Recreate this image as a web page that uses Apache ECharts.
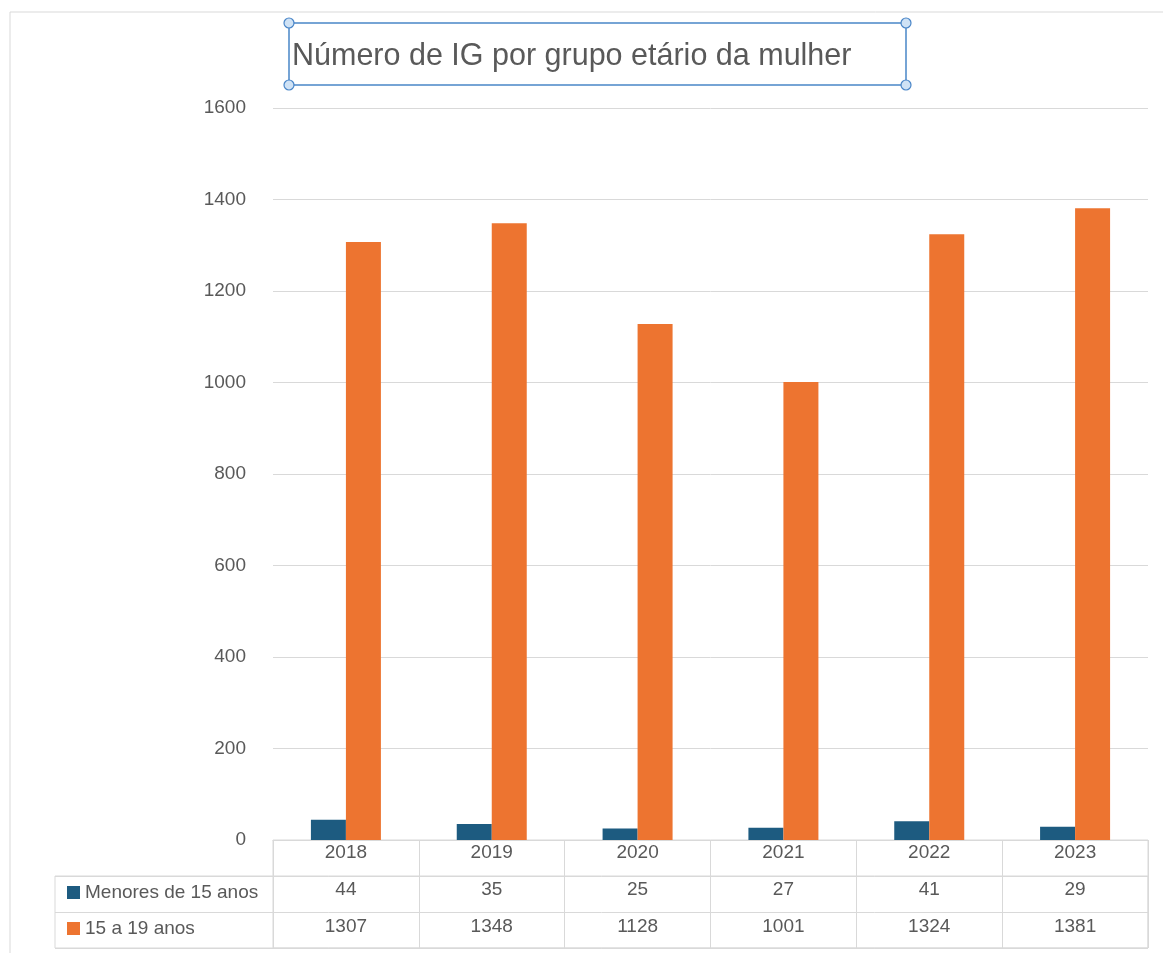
<!DOCTYPE html>
<html>
<head>
<meta charset="utf-8">
<script src="https://cdn.jsdelivr.net/npm/echarts@6/dist/echarts.min.js"></script>
<style>
  html, body { margin: 0; padding: 0; background: #fff; }
  #chart { width: 1163px; height: 953px; }
</style>
</head>
<body>
<div id="chart"></div>
<script>
var anos = ['2018', '2019', '2020', '2021', '2022', '2023'];
var menores15 = [44, 35, 25, 27, 41, 29];
var de15a19 = [1307, 1348, 1128, 1001, 1324, 1381];
var yTicks = [0, 200, 400, 600, 800, 1000, 1200, 1400, 1600];
var nomes = ['Menores de 15 anos', '15 a 19 anos'];

var font = '"Liberation Sans", Arial, sans-serif';
var cinza = '#595959';
var linha = '#d9d9d9';
var azul = '#1d5b80';
var laranja = '#ed7430';

var chart = echarts.init(document.getElementById('chart'));

// cantos da caixa de selecção do título
var cantos = [[289, 23], [906, 23], [289, 85], [906, 85]].map(function (p) {
    return {
        type: 'circle', shape: { cx: p[0], cy: p[1], r: 5 }, z: 20,
        style: { fill: '#cfe2f5', stroke: '#4a86c8', lineWidth: 1.2 }
    };
});

var option = {
    animation: false,
    textStyle: { fontFamily: font },
    title: {
        text: 'Número de IG por grupo etário da mulher',
        left: 287, top: 36,
        textStyle: { fontFamily: font, fontSize: 30.5, fontWeight: 'normal', color: cinza }
    },
    legend: {
        orient: 'vertical', left: 62, top: 878, itemGap: 17,
        itemWidth: 13, itemHeight: 13, icon: 'rect',
        data: nomes,
        textStyle: { fontFamily: font, fontSize: 19, color: cinza }
    },
    graphic: [
        { type: 'rect', shape: { x: 10, y: 12, width: 1180, height: 960 }, z: -10,
          style: { fill: 'none', stroke: linha, lineWidth: 1 } },
        { type: 'rect', shape: { x: 289, y: 23, width: 617, height: 62 }, z: 19,
          style: { fill: 'none', stroke: '#4a86c8', lineWidth: 1.5 } }
    ].concat(cantos),
    grid: [
        { left: 273, right: 15, top: 108, bottom: 113 },
        { left: 273, right: 15, top: 840, bottom: 5, show: true, borderColor: linha, borderWidth: 1 },
        { left: 55, right: 15, top: 876, bottom: 5, show: true, borderColor: linha, borderWidth: 1 }
    ],
    xAxis: [
        {
            type: 'category', gridIndex: 0, data: anos,
            axisLine: { lineStyle: { color: linha } },
            axisTick: { show: false },
            axisLabel: {
                margin: -6, interval: 0, color: cinza, fontSize: 19, fontFamily: font,
                lineHeight: 37,
                formatter: function (v, i) { return v + '\n' + menores15[i] + '\n' + de15a19[i]; }
            }
        },
        {
            type: 'category', gridIndex: 1, data: anos,
            axisLine: { show: false }, axisTick: { show: false }, axisLabel: { show: false },
            splitLine: { show: true, interval: 0, lineStyle: { color: linha } }
        },
        {
            type: 'value', gridIndex: 2, show: false, splitLine: { show: false }
        }
    ],
    yAxis: [
        {
            type: 'value', gridIndex: 0, min: yTicks[0], max: yTicks[yTicks.length - 1], interval: 200,
            axisLine: { show: false }, axisTick: { show: false },
            axisLabel: { margin: 27, color: cinza, fontSize: 19, fontFamily: font,
                formatter: function (v) { return String(v); } },
            splitLine: { lineStyle: { color: linha } }
        },
        {
            type: 'value', gridIndex: 1, show: false, splitLine: { show: false }
        },
        {
            type: 'category', gridIndex: 2, data: nomes,
            axisLine: { show: false }, axisTick: { show: false }, axisLabel: { show: false },
            splitLine: { show: true, interval: 0, lineStyle: { color: linha } }
        }
    ],
    series: [
        {
            name: nomes[0], type: 'bar', data: menores15, barWidth: 35, barGap: '0%',
            itemStyle: { color: azul }
        },
        {
            name: nomes[1], type: 'bar', data: de15a19, barWidth: 35, barGap: '0%',
            itemStyle: { color: laranja }
        }
    ]
};

chart.setOption(option);
</script>
</body>
</html>
